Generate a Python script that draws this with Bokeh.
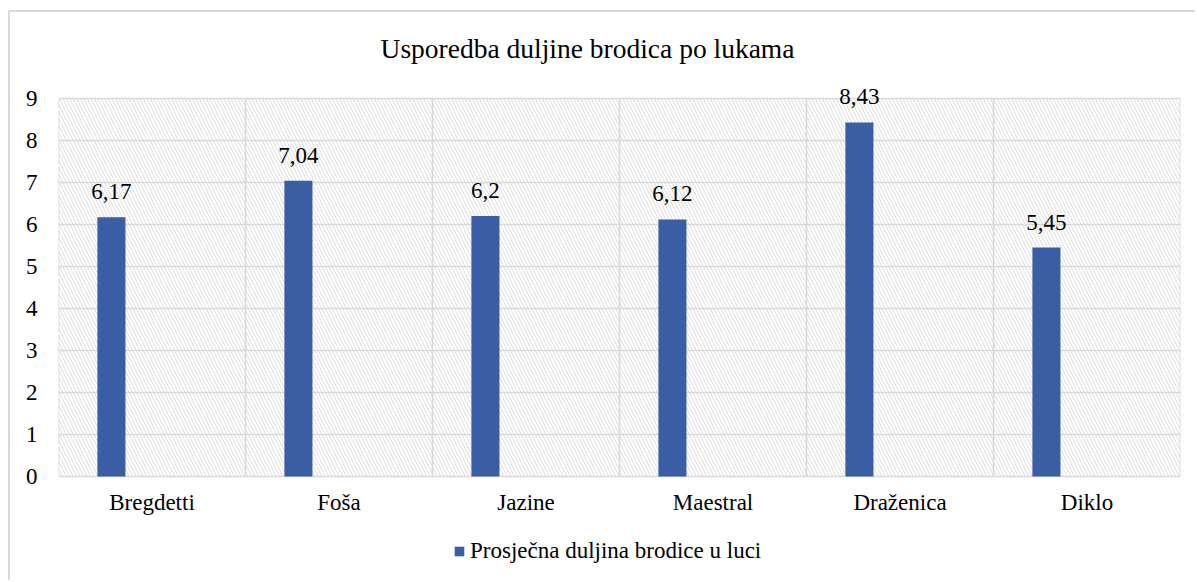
from bokeh.plotting import figure
from bokeh.models import (Range1d, FixedTicker, ColumnDataSource, BoxAnnotation,
                          Legend, LegendItem, LabelSet, Label)
from bokeh.transform import dodge
from bokeh.core.properties import value
from bokeh.embed import file_html
from bokeh.resources import INLINE

# ---- data ----
ports = ["Bregdetti", "Foša", "Jazine", "Maestral", "Draženica", "Diklo"]
lengths = [6.17, 7.04, 6.2, 6.12, 8.43, 5.45]
y_ticks = [0, 1, 2, 3, 4, 5, 6, 7, 8, 9]
title_text = "Usporedba duljine brodica po lukama"
series_name = "Prosječna duljina brodice u luci"

FONT = "Liberation Serif"
GRID = "#D9D9D9"
BAR = "#3A5DA3"

n = len(ports)
ymax = y_ticks[-1]
centers = [i + 0.5 for i in range(n)]
labels = [f"{v:g}".replace(".", ",") for v in lengths]
src = ColumnDataSource(dict(x=centers, y=lengths, label=labels))
bounds = ColumnDataSource(dict(x=list(range(n + 1))))

# the frame spans the full canvas height so title, labels and legend live inside it
p = figure(width=1187, height=570,
           x_range=Range1d(0, n), y_range=Range1d(-2.524, 11.048),
           output_backend="svg", toolbar_location=None,
           min_border_left=48, min_border_right=17,
           min_border_top=0, min_border_bottom=0)
p.styles = {"margin-left": "8px", "margin-top": "10px",
            "border-left": f"2px solid {GRID}", "border-top": f"2px solid {GRID}"}
p.title.visible = False
p.background_fill_color = "white"
p.border_fill_color = "white"
p.outline_line_color = None

# hatched plot-area background (0..n, 0..ymax)
p.add_layout(BoxAnnotation(left=0, right=n, bottom=0, top=ymax,
                           fill_alpha=0, line_color=None, hatch_pattern="\\",
                           hatch_color="#DCDCDC", hatch_scale=7, hatch_weight=1.0,
                           level="image"))

# chart title
p.add_layout(Label(x=n / 2, y=ymax, x_offset=-32, y_offset=50, text=title_text,
                   text_align="center", text_baseline="alphabetic",
                   text_font=FONT, text_font_size="27.5px",
                   text_color="black", level="overlay"))

# axes
p.xaxis.fixed_location = 0
p.xaxis.ticker = FixedTicker(ticks=centers)
p.xaxis.major_label_overrides = {c: nm for c, nm in zip(centers, ports)}
p.yaxis.ticker = FixedTicker(ticks=y_ticks)
for ax in (p.xaxis, p.yaxis):
    ax.axis_line_color = None
    ax.major_tick_line_color = None
    ax.minor_tick_line_color = None
    ax.major_tick_out = 0
    ax.major_tick_in = 0
    ax.major_label_text_font = FONT
    ax.major_label_text_font_size = "23px"
    ax.major_label_text_color = "black"
p.xaxis.major_label_standoff = 14
p.yaxis.major_label_standoff = 21

# grids: horizontal from the axis ticker, vertical category borders as segments
p.xgrid.grid_line_color = None
p.ygrid.ticker = FixedTicker(ticks=y_ticks)
p.ygrid.grid_line_color = GRID
p.ygrid.grid_line_width = 1.6
p.segment(x0="x", x1="x", y0=0, y1=ymax, source=bounds,
          line_color=GRID, line_width=1.6, level="underlay")

# bars
xpos = dodge("x", -0.217, range=p.x_range)
r = p.vbar(x=xpos, top="y", bottom=0, width=0.15, source=src,
           fill_color=BAR, line_color=None)

# data labels
p.add_layout(LabelSet(x=xpos, y="y", text="label", source=src,
                      text_align="center", text_baseline="alphabetic",
                      y_offset=18, text_font=value(FONT),
                      text_font_size="23px", text_color="black",
                      level="overlay"))

# legend under the category labels
legend = Legend(items=[LegendItem(label=series_name, renderers=[r])],
                location=(395, 18), orientation="horizontal",
                border_line_color=None, background_fill_alpha=0,
                padding=0, margin=0, label_standoff=5,
                glyph_width=12, glyph_height=12, label_height=24,
                label_text_font=FONT, label_text_font_size="23px",
                label_text_color="black")
p.add_layout(legend)

open("out.html", "w").write(file_html(p, INLINE))
